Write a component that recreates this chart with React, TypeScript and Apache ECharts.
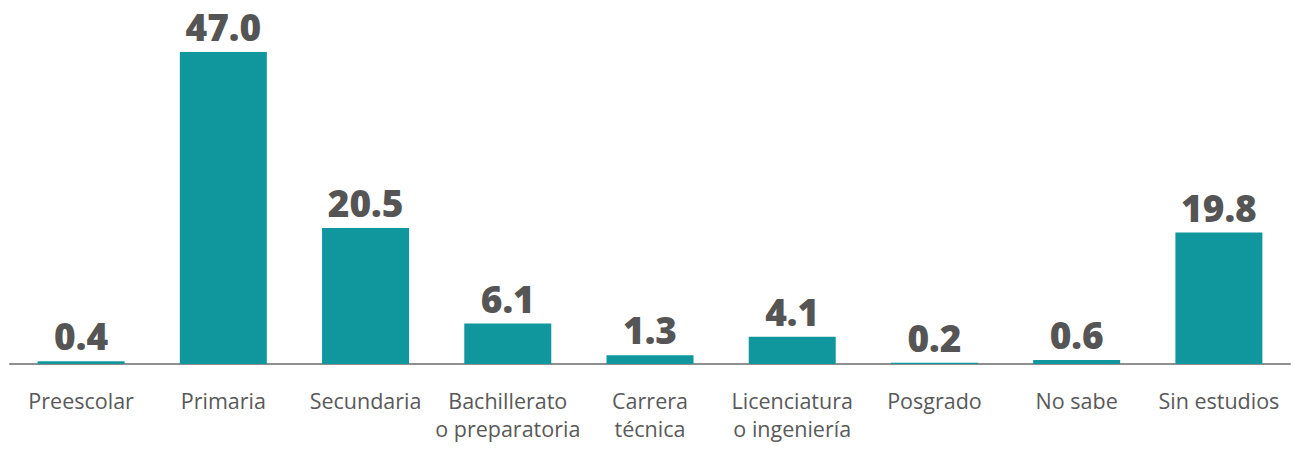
import React, { useEffect, useRef } from "react";
import * as echarts from "echarts";

const categories = [
  "Preescolar",
  "Primaria",
  "Secundaria",
  "Bachillerato\no preparatoria",
  "Carrera\ntécnica",
  "Licenciatura\no ingeniería",
  "Posgrado",
  "No sabe",
  "Sin estudios",
];
const values = [0.4, 47.0, 20.5, 6.1, 1.3, 4.1, 0.2, 0.6, 19.8];

export default function App() {
  const ref = useRef<HTMLDivElement>(null);
  useEffect(() => {
    if (!ref.current) return;
    const chart = echarts.init(ref.current, null, { renderer: "svg" });
    chart.setOption({
      animation: false,
      grid: { left: 10, right: 9, top: 52, bottom: 86, containLabel: false },
      xAxis: {
        type: "category",
        data: categories,
        axisTick: { show: false },
        axisLine: { lineStyle: { color: "#8f8f8f", width: 2 } },
        axisLabel: {
          interval: 0,
          color: "#595959",
          fontFamily: "Open Sans",
          fontSize: 21.5,
          lineHeight: 28,
          margin: 22,
        },
      },
      yAxis: {
        type: "value",
        min: 0,
        max: 47,
        show: false,
        splitLine: { show: false },
      },
      series: [
        {
          type: "bar",
          data: values,
          barWidth: 87,
          itemStyle: { color: "#10979e" },
          label: {
            show: true,
            position: "top",
            distance: 7,
            color: "#555555",
            fontFamily: "Open Sans",
            fontWeight: 800,
            fontSize: 37,
            formatter: (p: any) => Number(p.value).toFixed(1),
          },
        },
      ],
    });
    return () => chart.dispose();
  }, []);
  return (
    <div
      ref={ref}
      style={{ position: "fixed", left: 0, top: 0, width: 1299, height: 450, background: "#fff" }}
    />
  );
}
